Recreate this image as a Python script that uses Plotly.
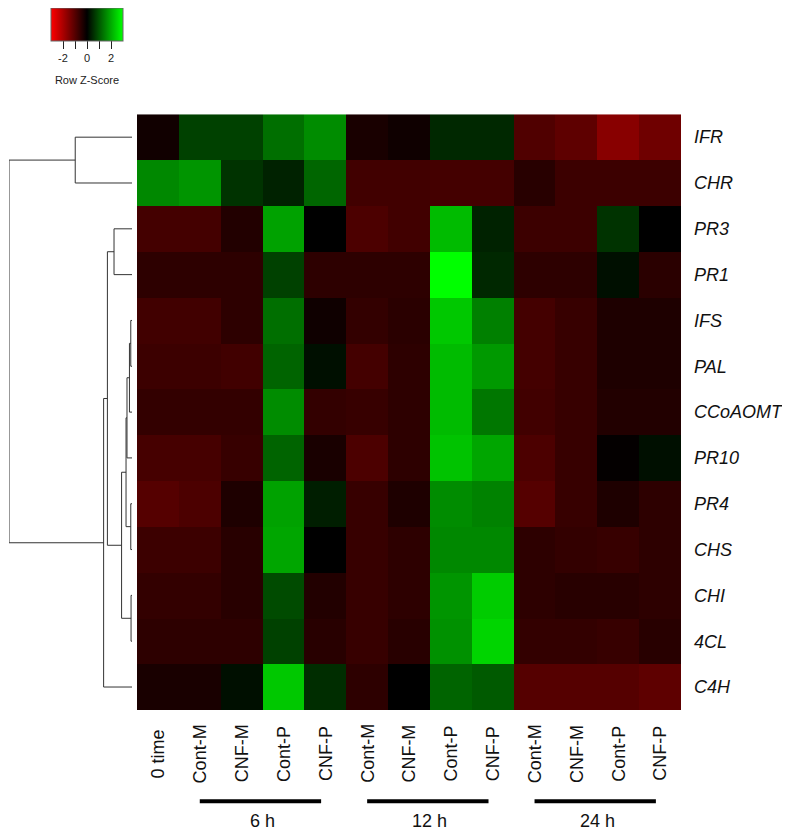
import plotly.graph_objects as go

genes = ["IFR", "CHR", "PR3", "PR1", "IFS", "PAL", "CCoAOMT", "PR10", "PR4", "CHS", "CHI", "4CL", "C4H"]
samples = ["0 time", "Cont-M", "CNF-M", "Cont-P", "CNF-P", "Cont-M", "CNF-M", "Cont-P", "CNF-P",
           "Cont-M", "CNF-M", "Cont-P", "CNF-P"]
group_labels = ["6 h", "12 h", "24 h"]
group_spans = [(1, 4), (5, 8), (9, 12)]

# row z-scores
z_ifr = [-0.2, 0.76, 0.76, 1.3, 1.65, -0.3, -0.18, 0.47, 0.47, -0.94, -1.1, -1.6, -1.3]
z_chr = [1.6, 1.75, 0.6, 0.4, 1.2, -0.76, -0.76, -0.8, -0.8, -0.47, -0.7, -0.7, -0.7]
z_pr3 = [-0.8, -0.8, -0.4, 1.9, 0.0, -0.9, -0.76, 2.2, 0.4, -0.7, -0.7, 0.6, 0.0]
z_pr1 = [-0.53, -0.53, -0.53, 0.76, -0.53, -0.53, -0.53, 3.0, 0.47, -0.53, -0.53, 0.18, -0.5]
z_ifs = [-0.76, -0.76, -0.53, 1.3, -0.18, -0.6, -0.5, 2.35, 1.5, -0.8, -0.65, -0.35, -0.35]
z_pal = [-0.7, -0.7, -0.76, 1.18, 0.18, -0.8, -0.53, 2.2, 1.8, -0.8, -0.65, -0.35, -0.35]
z_ccoaomt = [-0.6, -0.6, -0.6, 1.65, -0.6, -0.65, -0.53, 2.2, 1.4, -0.76, -0.65, -0.4, -0.4]
z_pr10 = [-0.82, -0.82, -0.65, 1.18, -0.3, -0.9, -0.53, 2.3, 1.95, -0.9, -0.65, -0.05, 0.18]
z_pr4 = [-1.0, -0.9, -0.35, 1.9, 0.35, -0.65, -0.35, 1.65, 1.53, -1.0, -0.65, -0.35, -0.53]
z_chs = [-0.7, -0.7, -0.47, 1.95, 0.0, -0.65, -0.53, 1.6, 1.6, -0.53, -0.6, -0.65, -0.53]
z_chi = [-0.6, -0.6, -0.47, 0.88, -0.4, -0.65, -0.53, 1.75, 2.4, -0.53, -0.47, -0.47, -0.53]
z_4cl = [-0.53, -0.53, -0.53, 0.76, -0.47, -0.65, -0.47, 1.7, 2.5, -0.6, -0.6, -0.65, -0.47]
z_c4h = [-0.3, -0.3, 0.18, 2.35, 0.53, -0.53, 0.0, 1.18, 1.06, -1.0, -1.0, -1.0, -1.1]

# row dendrogram: leaves are genes in the order above, merges (a, b, height), new ids from 13 up
merges = [
    (4, 5, 1.3), (10, 11, 1.0), (8, 9, 1.3), (13, 6, 2.7), (16, 7, 5.3), (17, 15, 6.3),
    (18, 14, 11), (2, 3, 19), (20, 19, 26), (21, 12, 30), (0, 1, 60), (23, 22, 130),
]

z = [z_ifr, z_chr, z_pr3, z_pr1, z_ifs, z_pal, z_ccoaomt, z_pr10, z_pr4, z_chs, z_chi, z_4cl, z_c4h]

W, H = 790, 830
OFF = 8  # page body margin, positions below are page pixels
FONT = "Liberation Sans, Arial, sans-serif"


def px_x(p):
    return (p - OFF) / W


def px_y(p):
    return 1 - (p - OFF) / H


# dendrogram segments
pos = {i: (float(i), 0.0) for i in range(len(genes))}
dx, dy = [], []
for k, (a, b, h) in enumerate(merges):
    ya, ha = pos[a]
    yb, hb = pos[b]
    dx += [ha, h, h, hb, None]
    dy += [ya, ya, yb, yb, None]
    pos[len(genes) + k] = ((ya + yb) / 2, h)

fig = go.Figure()
fig.add_trace(go.Heatmap(
    z=z, x=list(range(len(samples))), y=list(range(len(genes))),
    zmin=-3, zmax=3,
    colorscale=[[0, "rgb(255,0,0)"], [0.5, "rgb(0,0,0)"], [1, "rgb(0,255,0)"]],
    hoverinfo="skip",
    colorbar=dict(
        orientation="h", x=px_x(87), xanchor="center", y=px_y(2), yanchor="top",
        lenmode="pixels", len=72, thickness=33, xpad=0, ypad=0,
        outlinewidth=1, outlinecolor="#666",
        tickvals=[-2, -1, 0, 1, 2], ticktext=["-2", "", "0", "", "2"],
        ticks="outside", ticklen=8, tickcolor="#222",
        tickfont=dict(family=FONT, size=11, color="#222"),
        title=dict(text="<br>Row Z-Score", side="bottom",
                   font=dict(family=FONT, size=11, color="#222")),
    ),
))
fig.add_trace(go.Scatter(
    x=dx, y=dy, xaxis="x2", yaxis="y", mode="lines",
    line=dict(color="#333", width=1), hoverinfo="skip", showlegend=False,
))

for i, s in enumerate(samples):
    fig.add_annotation(
        x=i, xref="x", y=px_y(753), yref="paper", text=s, textangle=-90,
        showarrow=False, font=dict(family=FONT, size=18, color="#111"),
        xanchor="center", yanchor="middle",
    )
for lab, (a, b) in zip(group_labels, group_spans):
    fig.add_shape(type="line", xref="x", yref="paper", x0=a, x1=b - 0.1, y0=px_y(801), y1=px_y(801),
                  line=dict(color="black", width=4))
    fig.add_annotation(
        x=(a + b) / 2, xref="x", y=px_y(821), yref="paper", text=lab, showarrow=False,
        font=dict(family=FONT, size=18, color="#111"), xanchor="center", yanchor="middle",
    )

fig.update_layout(
    width=W, height=H, margin=dict(l=0, r=0, t=0, b=0),
    paper_bgcolor="white", plot_bgcolor="white", showlegend=False,
    xaxis=dict(domain=[px_x(137), px_x(681)], range=[-0.5, 12.5], showticklabels=False,
               showgrid=False, zeroline=False, ticks=""),
    yaxis=dict(domain=[px_y(709), px_y(109)], range=[12.5, -0.5], side="right",
               tickvals=list(range(len(genes))), ticktext=[f"<i>{g}</i>" for g in genes],
               tickfont=dict(family=FONT, size=18, color="#111"), ticks="",
               ticklabelstandoff=12, showgrid=False, zeroline=False),
    # root sits at the page's left edge
    xaxis2=dict(domain=[px_x(OFF + 1), px_x(132)], range=[130, 0], visible=False),
)

fig.write_html("out.html")
